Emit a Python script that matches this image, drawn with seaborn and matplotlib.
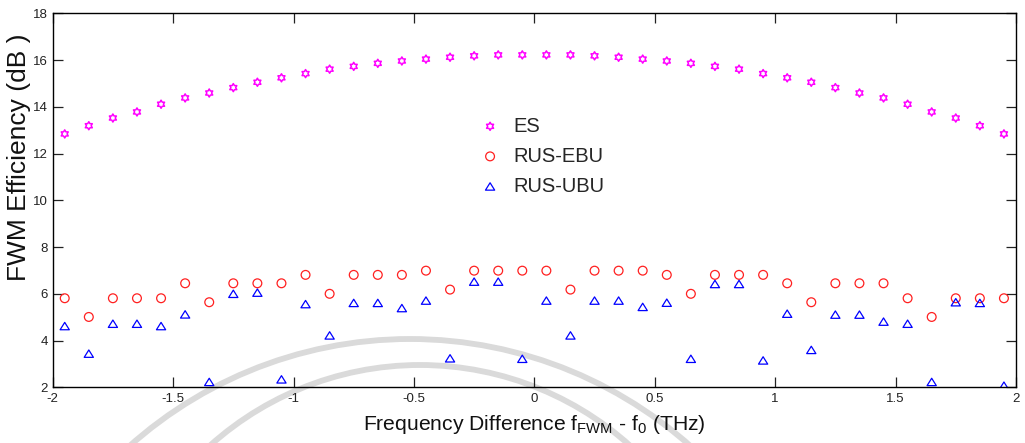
import numpy as np
import pandas as pd
import matplotlib
matplotlib.use("Agg")
import matplotlib.pyplot as plt
from matplotlib.path import Path
from matplotlib.patches import Arc
import seaborn as sns

# Frequency offsets (THz) of the FWM products
freq = [-1.95, -1.85, -1.75, -1.65, -1.55, -1.45, -1.35, -1.25, -1.15, -1.05,
        -0.95, -0.85, -0.75, -0.65, -0.55, -0.45, -0.35, -0.25, -0.15, -0.05,
        0.05, 0.15, 0.25, 0.35, 0.45, 0.55, 0.65, 0.75, 0.85, 0.95,
        1.05, 1.15, 1.25, 1.35, 1.45, 1.55, 1.65, 1.75, 1.85, 1.95]

# FWM efficiency (dB) per channel allocation scheme
es = [12.84, 13.19, 13.52, 13.78, 14.11, 14.38, 14.59, 14.82, 15.05, 15.24,
      15.42, 15.61, 15.73, 15.86, 15.96, 16.04, 16.12, 16.18, 16.22, 16.22,
      16.22, 16.22, 16.18, 16.12, 16.04, 15.96, 15.86, 15.73, 15.61, 15.42,
      15.24, 15.05, 14.82, 14.59, 14.38, 14.11, 13.78, 13.52, 13.19, 12.84]

rus_ebu = [5.81, 5.01, 5.81, 5.81, 5.81, 6.45, 5.64, 6.45, 6.45, 6.45,
           6.81, 6.00, 6.81, 6.81, 6.81, 6.99, 6.18, 6.99, 6.99, 6.99,
           6.99, 6.18, 6.99, 6.99, 6.99, 6.81, 6.00, 6.81, 6.81, 6.81,
           6.45, 5.64, 6.45, 6.45, 6.45, 5.81, 5.01, 5.81, 5.81, 5.81]

rus_ubu = [4.62, 3.44, 4.72, 4.72, 4.62, 5.12, 2.23, 6.00, 6.05, 2.34,
           5.56, 4.22, 5.61, 5.61, 5.39, 5.71, 3.24, 6.52, 6.52, 3.22,
           5.71, 4.22, 5.71, 5.71, 5.44, 5.62, 3.22, 6.42, 6.42, 3.15,
           5.15, 3.60, 5.11, 5.11, 4.81, 4.72, 2.23, 5.64, 5.61, 2.07]

x_ticks = [-2, -1.5, -1, -0.5, 0, 0.5, 1, 1.5, 2]
y_ticks = [2, 4, 6, 8, 10, 12, 14, 16, 18]
x_ticklabels = ["-2", "-1.5", "-1", "-0.5", "0", "0.5", "1", "1.5", "2"]

sns.set_theme(style="ticks")
plt.rcParams["font.family"] = ["Liberation Sans", "DejaVu Sans"]
plt.rcParams["mathtext.fontset"] = "custom"
plt.rcParams["mathtext.rm"] = "Liberation Sans"
plt.rcParams["mathtext.it"] = "Liberation Sans"

# six-pointed star (hexagram) outline marker
ang = np.deg2rad(90 + 30 * np.arange(12))
rad = np.where(np.arange(12) % 2 == 0, 1.0, 1 / np.sqrt(3))
star_verts = np.column_stack([rad * np.cos(ang), rad * np.sin(ang)])
hexagram = Path(np.vstack([star_verts, star_verts[:1]]), closed=True)

# squat open triangle marker
tri = Path([(0, 0.8), (-1, -0.8), (1, -0.8), (0, 0.8)], closed=True)

fig = plt.figure(figsize=(10.25, 4.43), dpi=100)
fig.patch.set_facecolor("white")
ax = fig.add_axes([0.0514, 0.1257, 0.9398, 0.8443])
ax.set_facecolor("none")

# faint seal arcs behind the plot
for cx, cy, r in [(410, 760, 421), (420, 679, 314)]:
    arc = Arc((cx / 1025, 1 - cy / 443), 2 * r / 1025, 2 * r / 443,
              theta1=0, theta2=180, transform=fig.transFigure,
              color="#dadada", lw=4.2, zorder=-5)
    fig.patches.append(arc)

df = pd.DataFrame({"freq": freq, "ES": es, "RUS-EBU": rus_ebu, "RUS-UBU": rus_ubu})

sns.scatterplot(data=df, x="freq", y="ES", ax=ax, marker=hexagram, s=34,
                color="magenta", facecolors="none", edgecolor="#ff00ff",
                linewidths=1.1, label="ES")
sns.scatterplot(data=df, x="freq", y="RUS-EBU", ax=ax, marker="o", s=40,
                color="red", facecolors="none", edgecolor="#ff2020",
                linewidths=0.9, label="RUS-EBU")
sns.scatterplot(data=df, x="freq", y="RUS-UBU", ax=ax, marker=tri, s=44,
                color="blue", facecolors="none", edgecolor="#0000ff",
                linewidths=0.9, label="RUS-UBU")

ax.set_xlim(-2, 2)
ax.set_ylim(2, 18)
ax.set_xticks(x_ticks)
ax.set_xticklabels(x_ticklabels)
ax.set_yticks(y_ticks)
ax.tick_params(axis="both", which="major", direction="in", length=7, width=0.9,
               top=True, right=True, labelsize=9.5, colors="#222222", pad=3.5)
ax.tick_params(axis="x", pad=4)
for side in ax.spines.values():
    side.set_visible(True)
    side.set_color("black")
    side.set_linewidth(1.0)

ax.set_xlabel(r"Frequency Difference f$_{\mathrm{FWM}}$ - f$_{\mathrm{0}}$ (THz)",
              fontsize=15.2, color="#111111", labelpad=6)
ax.set_ylabel("FWM Efficiency (dB )", fontsize=19, color="#111111")
ax.yaxis.set_label_coords(-0.0225, 0.616)

leg = ax.legend(loc="center left", bbox_to_anchor=(0.4436, 0.618), frameon=False,
                fontsize=14.5, handlelength=1.0, handletextpad=0.65,
                labelspacing=0.55, borderpad=0, borderaxespad=0)

fig.savefig("out.png", dpi=100)
